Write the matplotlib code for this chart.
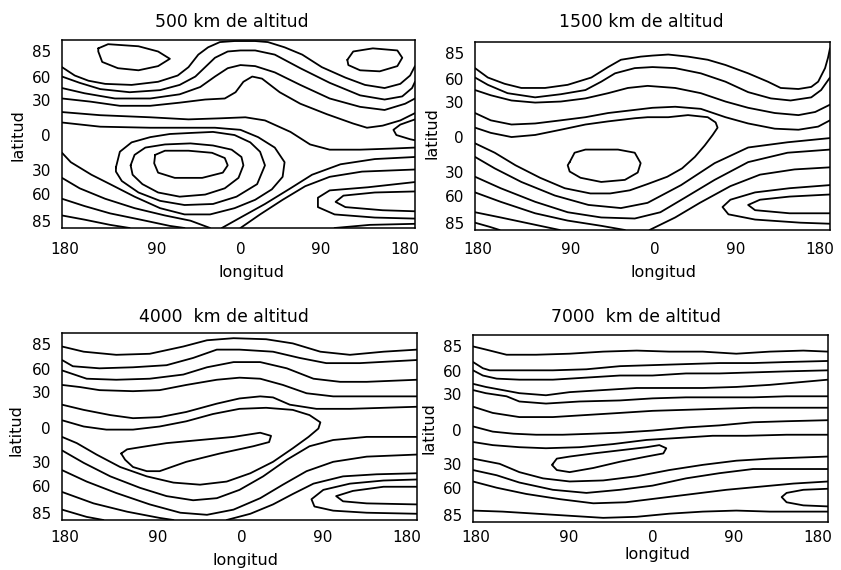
import matplotlib
matplotlib.use("Agg")
import matplotlib.pyplot as plt

# ---------------- text / labels ----------------
titles = ["500 km de altitud", "1500 km de altitud", "4000  km de altitud", "7000  km de altitud"]
x_label = "longitud"
y_label = "latitud"
x_ticks = [-177, -83, 2, 84, 170]
x_tick_labels = ["180", "90", "0", "90", "180"]
y_ticks = [79, 55, 33, -1, -34, -57, -83]
y_tick_labels = ["85", "60", "30", "0", "30", "60", "85"]

# ---------------- panel 1: 500 km ----------------
p1_tl_lon = [-143, -133, -102, -82, -70, -82, -102, -123, -139, -143, -143]
p1_tl_lat = [82, 86, 84, 79, 72, 65, 61, 63, 69, 79, 82]
p1_tr_lon = [111, 117, 137, 162, 167, 162, 144, 124, 112, 111]
p1_tr_lat = [71, 79, 82, 80, 73, 65, 60, 61, 66, 71]
p1_u1_lon = [-180, -167, -153, -136, -109, -82, -62, -51, -41, -31, -19, -4, 17, 30, 47, 65, 85, 109, 129, 149, 165, 175, 180]
p1_u1_lat = [64, 56, 51, 48, 47, 50, 56, 64, 76, 83, 88, 89, 89, 88, 83, 76, 64, 54, 47, 44, 48, 56, 65]
p1_u2_lon = [-180, -162, -141, -111, -80, -60, -44, -34, -24, -11, 2, 17, 37, 63, 93, 124, 149, 167, 177, 180]
p1_u2_lat = [55, 49, 43, 40, 42, 47, 55, 64, 73, 79, 80, 80, 76, 63, 49, 37, 33, 36, 44, 50]
p1_u3_lon = [-180, -157, -126, -90, -60, -39, -24, -11, 2, 17, 37, 63, 93, 124, 149, 170, 180]
p1_u3_lat = [44, 39, 34, 34, 38, 45, 55, 63, 66, 65, 59, 47, 34, 26, 23, 29, 34]
p1_u4_lon = [-180, -151, -121, -90, -60, -34, -14, -3, 5, 14, 24, 42, 63, 90, 117, 131, 147, 165, 180]
p1_u4_lat = [34, 31, 27, 27, 30, 33, 34, 40, 50, 55, 53, 40, 29, 19, 10, 6, 8, 13, 20]
p1_rl_lon = [180, 165, 158, 161, 175, 180]
p1_rl_lat = [14, 9, 4, -1, -5, -6]
p1_m_lon = [-180, -141, -90, -51, -19, 7, 27, 53, 73, 93, 124, 155, 180]
p1_m_lat = [21, 18, 16, 14, 15, 16, 13, 2, -10, -15, -15, -14, -13]
p1_oc_lon = [-180, -141, -90, -51, -24, 2, 20, 37, 47, 45, 34, 17, -4, -29, -55, -80, -106, -131, -150, -171, -180]
p1_oc_lat = [11, 7, 6, 6, 6, 4, -3, -13, -27, -41, -53, -63, -71, -77, -77, -71, -60, -48, -39, -27, -18]
p1_t3_lon = [-125, -121, -109, -90, -70, -49, -26, -4, 12, 22, 27, 19, -2, -26, -55, -80, -102, -119, -125, -125]
p1_t3_lat = [-32, -17, -8, -3, 0, 1, 2, -1, -8, -17, -30, -48, -60, -67, -68, -64, -56, -45, -36, -32]
p1_t2_lon = [-110, -106, -95, -75, -49, -26, -7, 3, 5, 0, -14, -34, -60, -82, -98, -108, -110]
p1_t2_lat = [-30, -20, -13, -10, -9, -11, -15, -22, -30, -42, -52, -58, -60, -56, -48, -39, -30]
p1_t1_lon = [-85, -75, -51, -27, -14, -11, -16, -37, -65, -82, -86, -85]
p1_t1_lat = [-20, -16, -16, -18, -23, -30, -37, -42, -42, -37, -28, -20]
p1_ll1_lon = [-180, -162, -136, -106, -75, -49, -29]
p1_ll1_lat = [-42, -52, -62, -71, -78, -83, -90]
p1_ll2_lon = [-180, -157, -131, -100, -70, -55]
p1_ll2_lat = [-62, -69, -76, -82, -88, -90]
p1_ll3_lon = [-180, -157, -131, -111]
p1_ll3_lat = [-78, -82, -87, -90]
p1_r1_lon = [-17, 2, 27, 53, 75, 104, 139, 180]
p1_r1_lat = [-90, -80, -67, -52, -39, -29, -24, -22]
p1_r2_lon = [2, 22, 45, 68, 93, 126, 180]
p1_r2_lat = [-90, -77, -63, -50, -41, -36, -34]
p1_ol_lon = [180, 132, 93, 81, 81, 98, 139, 180]
p1_ol_lat = [-46, -51, -54, -61, -70, -77, -80, -81]
p1_il_lon = [180, 139, 107, 99, 109, 147, 180]
p1_il_lat = [-55, -56, -59, -65, -70, -73, -74]
p1_bl_lon = [98, 134, 180]
p1_bl_lat = [-90, -87, -86]

# ---------------- panel 2: 1500 km ----------------
p2_a_lon = [-180, -167, -150, -133, -109, -86, -62, -45, -32, -12, 0, 16, 36, 56, 74, 97, 117, 130, 148, 161, 168, 175, 178, 180]
p2_a_lat = [65, 56, 50, 46, 46, 49, 56, 66, 73, 76, 77, 78, 76, 73, 68, 60, 52, 46, 45, 47, 52, 65, 75, 84]
p2_b_lon = [-180, -167, -147, -119, -93, -68, -52, -38, -18, 0, 23, 49, 74, 97, 120, 140, 161, 171, 180]
p2_b_lat = [56, 49, 41, 37, 40, 44, 52, 60, 65, 66, 65, 60, 52, 42, 36, 34, 37, 44, 56]
p2_c_lon = [-180, -164, -143, -119, -93, -68, -45, -25, -5, 23, 49, 74, 97, 124, 148, 165, 180]
p2_c_lat = [44, 39, 34, 32, 33, 36, 41, 46, 48, 46, 41, 33, 27, 22, 20, 23, 30]
p2_d_lon = [-180, -164, -143, -119, -93, -68, -45, -18, 0, 23, 49, 74, 97, 124, 148, 168, 180]
p2_d_lat = [22, 15, 11, 12, 15, 18, 22, 25, 27, 28, 26, 18, 12, 7, 6, 9, 15]
p2_e_lon = [-180, -164, -143, -119, -93, -68, -45, -18, -5, 16, 36, 56, 64, 66, 61, 53, 43, 30, 15, -5, -23, -43, -63, -89, -114, -139, -160, -180]
p2_e_lat = [8, 3, -1, 1, 6, 11, 14, 17, 18, 18, 20, 18, 13, 8, 1, -9, -20, -31, -39, -46, -52, -55, -55, -50, -40, -28, -16, -7]
p2_loop_lon = [-84, -79, -68, -35, -18, -12, -15, -28, -52, -73, -84, -86, -84]
p2_loop_lat = [-25, -16, -13, -13, -16, -26, -35, -42, -44, -40, -34, -28, -25]
p2_f1_lon = [-180, -160, -133, -99, -65, -32, -5, 29, 63, 97, 137, 180]
p2_f1_lat = [-20, -31, -44, -57, -66, -69, -64, -47, -26, -11, -6, -2]
p2_f2_lon = [-180, -154, -119, -86, -52, -18, 8, 33, 63, 97, 137, 180]
p2_f2_lat = [-39, -50, -63, -73, -78, -79, -73, -59, -42, -25, -16, -13]
p2_f3_lon = [-180, -154, -119, -86, -52, -28]
p2_f3_lat = [-54, -63, -74, -81, -86, -90]
p2_g1_lon = [-3, 23, 48, 79, 109, 144, 180]
p2_g1_lat = [-90, -78, -64, -48, -37, -32, -30]
p2_f4_lon = [-180, -154, -119, -94]
p2_f4_lat = [-73, -78, -85, -90]
p2_f5_lon = [-180, -165, -155]
p2_f5_lat = [-83, -87, -90]
p2_ol_lon = [180, 139, 104, 79, 71, 77, 104, 150, 180]
p2_ol_lat = [-47, -50, -54, -61, -68, -75, -80, -83, -84]
p2_il_lon = [180, 139, 109, 97, 104, 139, 180]
p2_il_lat = [-56, -58, -61, -66, -71, -74, -74]

# ---------------- panel 3: 4000 km ----------------
p3_l1_lon = [-180, -158, -125, -91, -57, -33, -6, 27, 54, 82, 112, 146, 180]
p3_l1_lat = [77, 72, 69, 70, 77, 83, 85, 84, 80, 72, 69, 72, 74]
p3_l2_lon = [-180, -169, -142, -108, -74, -47, -23, 0, 34, 61, 88, 122, 180]
p3_l2_lat = [64, 58, 56, 57, 59, 66, 74, 74, 72, 66, 61, 61, 64]
p3_l3_lon = [-180, -155, -125, -91, -57, -33, -6, 21, 48, 75, 102, 129, 180]
p3_l3_lat = [54, 46, 45, 46, 50, 57, 62, 62, 56, 46, 43, 43, 45]
p3_l4_lon = [-180, -162, -142, -108, -81, -54, -23, 0, 21, 44, 68, 95, 129, 180]
p3_l4_lat = [40, 38, 35, 34, 35, 40, 45, 47, 46, 40, 32, 29, 29, 29]
p3_l5_lon = [-180, -158, -131, -108, -81, -54, -23, 0, 21, 34, 51, 78, 112, 180]
p3_l5_lat = [21, 16, 11, 8, 9, 14, 22, 27, 29, 28, 21, 17, 17, 19]
p3_c6_lon = [-180, -158, -135, -108, -81, -54, -27, 0, 27, 54, 71, 82, 80, 70, 54, 34, 11, -13, -40, -67, -94, -121, -145, -165, -180]
p3_c6_lat = [6, 0, -3, -3, 0, 5, 12, 17, 18, 16, 11, 4, -2, -10, -21, -34, -45, -53, -56, -54, -48, -39, -27, -16, -10]
p3_in_lon = [-120, -114, -101, -74, -40, -6, 21, 32, 30, 14, -20, -54, -81, -94, -108, -116, -120]
p3_in_lat = [-26, -22, -20, -16, -13, -10, -6, -9, -15, -19, -26, -34, -43, -43, -39, -32, -26]
p3_lb_lon = [-180, -158, -131, -101, -74, -47, -23, 0, 24, 48, 71, 95, 129, 180]
p3_lb_lat = [-23, -35, -48, -59, -67, -71, -69, -61, -48, -32, -19, -13, -10, -10]
p3_lc_lon = [-180, -155, -125, -91, -60, -33, -6, 21, 44, 68, 95, 129, 180]
p3_lc_lat = [-42, -53, -64, -75, -83, -85, -80, -69, -56, -43, -34, -29, -27]
p3_ld_lon = [-180, -148, -114, -81, -67]
p3_ld_lat = [-63, -74, -82, -88, -90]
p3_le_lon = [-13, 11, 34, 54, 75, 105, 139, 180]
p3_le_lat = [-90, -84, -75, -65, -55, -48, -46, -45]
p3_lf_lon = [-180, -155, -138]
p3_lf_lat = [-80, -87, -90]
p3_ol_lon = [180, 146, 112, 85, 73, 76, 95, 129, 180]
p3_ol_lat = [-51, -52, -55, -61, -70, -77, -81, -83, -84]
p3_il_lon = [180, 146, 115, 98, 105, 129, 180]
p3_il_lat = [-58, -58, -62, -67, -72, -74, -75]

# ---------------- panel 4: 7000 km ----------------
p4_q1_lon = [-180, -167, -146, -116, -82, -48, -14, 19, 53, 87, 121, 155, 180]
p4_q1_lat = [79, 76, 71, 71, 72, 74, 75, 74, 74, 72, 74, 75, 74]
p4_q2_lon = [-180, -170, -163, -133, -99, -65, -31, 2, 36, 70, 104, 138, 180]
p4_q2_lat = [64, 58, 56, 56, 56, 57, 60, 61, 62, 63, 63, 64, 65]
p4_q3_lon = [-180, -170, -156, -133, -99, -65, -31, 2, 36, 70, 104, 138, 180]
p4_q3_lat = [56, 51, 48, 47, 47, 49, 51, 51, 53, 53, 54, 55, 56]
p4_q4_lon = [-180, -167, -150, -133, -106, -82, -48, -14, 19, 53, 87, 121, 180]
p4_q4_lat = [43, 40, 37, 34, 32, 35, 37, 39, 39, 39, 40, 42, 47]
p4_q5_lon = [-180, -167, -146, -133, -106, -72, -31, 2, 36, 70, 104, 138, 180]
p4_q5_lat = [37, 34, 31, 26, 24, 26, 27, 29, 30, 30, 30, 31, 31]
p4_q6_lon = [-180, -160, -133, -99, -65, -31, 2, 36, 70, 104, 138, 180]
p4_q6_lat = [21, 15, 11, 11, 13, 15, 17, 18, 19, 20, 20, 20]
p4_q7_lon = [-180, -160, -139, -116, -89, -58, -31, 2, 36, 70, 104, 138, 180]
p4_q7_lat = [2, -3, -5, -6, -6, -5, -4, -2, 1, 3, 6, 7, 8]
p4_q8_lon = [-180, -160, -133, -106, -72, -38, -4, 30, 63, 97, 138, 180]
p4_q8_lat = [-13, -16, -18, -19, -18, -15, -11, -9, -7, -7, -6, -6]
p4_in_lon = [-99, -95, -82, -58, -31, -4, 9, 16, 13, -4, -31, -58, -82, -95, -100, -99]
p4_in_lat = [-34, -29, -27, -24, -21, -18, -16, -19, -24, -27, -32, -38, -42, -40, -35, -34]
p4_q9_lon = [-180, -153, -133, -109, -82, -48, -14, 19, 53, 87, 121, 180]
p4_q9_lat = [-29, -34, -42, -48, -51, -50, -46, -40, -35, -31, -29, -27]
p4_q10_lon = [-180, -156, -133, -99, -65, -31, 2, 36, 70, 104, 138, 180]
p4_q10_lat = [-40, -45, -52, -59, -62, -59, -55, -48, -43, -39, -39, -39]
p4_q11_lon = [-180, -156, -126, -92, -58, -25, 9, 43, 77, 111, 145, 180]
p4_q11_lat = [-51, -57, -63, -68, -72, -71, -67, -63, -59, -56, -53, -51]
p4_loop_lon = [180, 155, 138, 133, 138, 155, 180]
p4_loop_lat = [-58, -59, -62, -66, -71, -74, -75]
p4_q12_lon = [-180, -150, -116, -82, -48, -14, 19, 53, 87, 121, 180]
p4_q12_lat = [-79, -80, -82, -84, -86, -85, -82, -80, -79, -80, -80]

panel_lines = [
    [(p1_tl_lon, p1_tl_lat), (p1_tr_lon, p1_tr_lat), (p1_u1_lon, p1_u1_lat), (p1_u2_lon, p1_u2_lat),
     (p1_u3_lon, p1_u3_lat), (p1_u4_lon, p1_u4_lat), (p1_rl_lon, p1_rl_lat), (p1_m_lon, p1_m_lat),
     (p1_oc_lon, p1_oc_lat), (p1_t3_lon, p1_t3_lat), (p1_t2_lon, p1_t2_lat), (p1_t1_lon, p1_t1_lat),
     (p1_ll1_lon, p1_ll1_lat), (p1_ll2_lon, p1_ll2_lat), (p1_ll3_lon, p1_ll3_lat), (p1_r1_lon, p1_r1_lat),
     (p1_r2_lon, p1_r2_lat), (p1_ol_lon, p1_ol_lat), (p1_il_lon, p1_il_lat), (p1_bl_lon, p1_bl_lat)],
    [(p2_a_lon, p2_a_lat), (p2_b_lon, p2_b_lat), (p2_c_lon, p2_c_lat), (p2_d_lon, p2_d_lat),
     (p2_e_lon, p2_e_lat), (p2_loop_lon, p2_loop_lat), (p2_f1_lon, p2_f1_lat), (p2_f2_lon, p2_f2_lat),
     (p2_f3_lon, p2_f3_lat), (p2_g1_lon, p2_g1_lat), (p2_f4_lon, p2_f4_lat), (p2_f5_lon, p2_f5_lat),
     (p2_ol_lon, p2_ol_lat), (p2_il_lon, p2_il_lat)],
    [(p3_l1_lon, p3_l1_lat), (p3_l2_lon, p3_l2_lat), (p3_l3_lon, p3_l3_lat), (p3_l4_lon, p3_l4_lat),
     (p3_l5_lon, p3_l5_lat), (p3_c6_lon, p3_c6_lat), (p3_in_lon, p3_in_lat), (p3_lb_lon, p3_lb_lat),
     (p3_lc_lon, p3_lc_lat), (p3_ld_lon, p3_ld_lat), (p3_le_lon, p3_le_lat), (p3_lf_lon, p3_lf_lat),
     (p3_ol_lon, p3_ol_lat), (p3_il_lon, p3_il_lat)],
    [(p4_q1_lon, p4_q1_lat), (p4_q2_lon, p4_q2_lat), (p4_q3_lon, p4_q3_lat), (p4_q4_lon, p4_q4_lat),
     (p4_q5_lon, p4_q5_lat), (p4_q6_lon, p4_q6_lat), (p4_q7_lon, p4_q7_lat), (p4_q8_lon, p4_q8_lat),
     (p4_in_lon, p4_in_lat), (p4_q9_lon, p4_q9_lat), (p4_q10_lon, p4_q10_lat), (p4_q11_lon, p4_q11_lat),
     (p4_loop_lon, p4_loop_lat), (p4_q12_lon, p4_q12_lat)],
]

# ---------------- layout (pixels of the 841x570 canvas) ----------------
W, H = 841, 570
axes_px = [(62, 40, 415, 228), (475, 42, 830, 230), (62, 333, 417, 520), (473, 335, 828, 522)]
title_px = [(232, 22), (641, 22), (224, 317), (636, 317)]
ylabel_px = [(18, 135), (432, 133), (16, 430), (429, 428)]
xlabel_px = [(251, 273), (663, 273), (246, 560), (657, 555)]
xpad = [10, 8.6, 7, 6]

fig = plt.figure(figsize=(W / 100, H / 100), dpi=100)
fig.patch.set_facecolor("white")

def fx(x):
    return x / W

def fy(y):
    return 1 - y / H

for i in range(4):
    l, t, r, b = axes_px[i]
    ax = fig.add_axes([fx(l), fy(b), (r - l) / W, (b - t) / H])
    for lon, lat in panel_lines[i]:
        ax.plot(lon, lat, color="black", lw=1.3, solid_joinstyle="round", solid_capstyle="round")
    ax.set_xlim(-180, 180)
    ax.set_ylim(-90, 90)
    ax.set_xticks(x_ticks)
    ax.set_xticklabels(x_tick_labels)
    ax.set_yticks(y_ticks)
    ax.set_yticklabels(y_tick_labels)
    ax.tick_params(axis="x", length=0, pad=xpad[i], labelsize=11)
    ax.tick_params(axis="y", length=0, pad=8, labelsize=11)
    for s in ax.spines.values():
        s.set_linewidth(1.1)
        s.set_color("black")
    fig.text(fx(title_px[i][0]), fy(title_px[i][1]), titles[i], ha="center", va="center", fontsize=12.4)
    fig.text(fx(ylabel_px[i][0]), fy(ylabel_px[i][1]), y_label, ha="center", va="center", rotation=90, fontsize=11.5)
    fig.text(fx(xlabel_px[i][0]), fy(xlabel_px[i][1]), x_label, ha="center", va="center", fontsize=11.5)

fig.savefig("out.png", dpi=100, facecolor="white")
